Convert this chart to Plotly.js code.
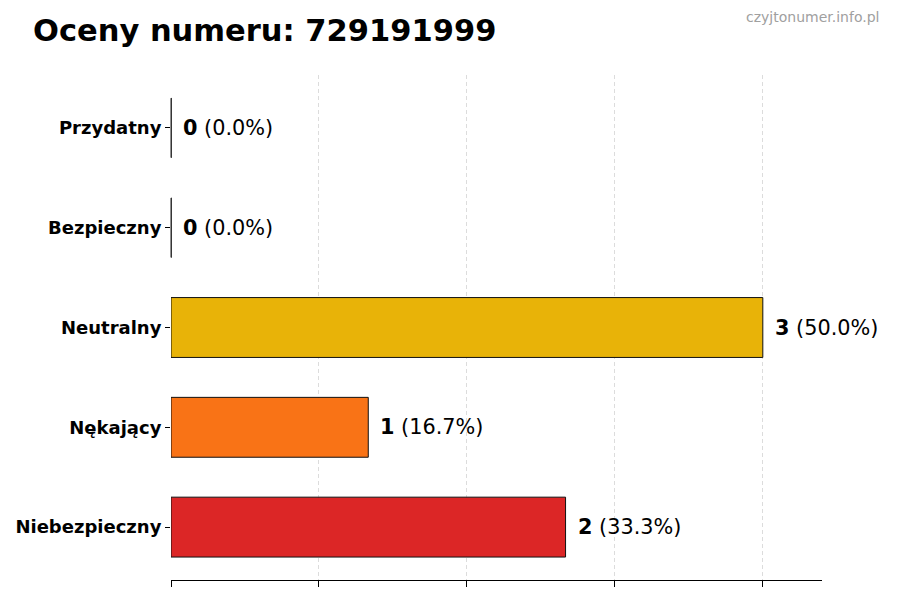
<!DOCTYPE html>
<html>
<head>
<meta charset="utf-8">
<script src="https://cdn.plot.ly/plotly-3.0.1.min.js"></script>
<style>html,body{margin:0;padding:0;background:#fff}#chart{width:900px;height:600px}</style>
</head>
<body>
<div id="chart"></div>
<script>
const categories = ["Niebezpieczny", "Nękający", "Neutralny", "Bezpieczny", "Przydatny"];
const counts = [2, 1, 3, 0, 0];
const percents = [33.3, 16.7, 50.0, 0.0, 0.0];
const colors = ["#dc2626", "#f97316", "#e8b308", "#16a34a", "#22c55e"];
const gridTicks = [0, 0.75, 1.5, 2.25, 3];
const titleText = "Oceny numeru: 729191999";
const watermark = "czyjtonumer.info.pl";

const FONT = "DejaVu Sans, sans-serif";
const xMax = Math.max(...counts) * 1.1;

const barTrace = {
  type: "bar",
  orientation: "h",
  y: categories,
  x: counts,
  width: 0.6,
  marker: { color: colors, line: { color: "#111", width: 1 } },
  hoverinfo: "skip"
};

// edge line for zero-valued bars (plotly does not draw zero-size bars)
const zeroCats = categories.filter((c, i) => counts[i] === 0);
const zeroTrace = {
  type: "scatter",
  mode: "markers",
  y: zeroCats,
  x: zeroCats.map(() => 0),
  marker: { symbol: "line-ns-open", size: 42.5, color: "#222", line: { color: "#222", width: 1 } },
  hoverinfo: "skip",
  cliponaxis: false
};

const annotations = categories.map((c, i) => ({
  x: counts[i], y: c, xref: "x", yref: "y",
  text: "<b>" + counts[i] + "</b> (" + percents[i].toFixed(1) + "%)",
  showarrow: false, xanchor: "left", yanchor: "middle", xshift: 10,
  font: { family: FONT, size: 20.8, color: "#000" }
}));
annotations.push({
  xref: "paper", yref: "paper", x: 1.0906, y: 1.115,
  xanchor: "right", yanchor: "middle",
  text: watermark, showarrow: false,
  font: { family: FONT, size: 14, color: "#a0a0a0" }
});

const layout = {
  width: 900, height: 600,
  margin: { l: 171, r: 78, t: 75, b: 20 },
  paper_bgcolor: "#fff", plot_bgcolor: "#fff",
  showlegend: false,
  title: {
    text: "<b>" + titleText + "</b>",
    x: 33 / 900, xanchor: "left", xref: "container",
    y: 1 - 30 / 600, yanchor: "middle", yref: "container",
    font: { family: FONT, size: 30.5, color: "#000" }
  },
  xaxis: {
    range: [0, xMax],
    tickvals: gridTicks, showticklabels: false,
    ticks: "outside", ticklen: 6, tickcolor: "#000", tickwidth: 1,
    showgrid: true, gridcolor: "#dcdcdc", griddash: "4px,3px", gridwidth: 1,
    showline: true, linecolor: "#000", linewidth: 1,
    zeroline: false, fixedrange: true
  },
  yaxis: {
    type: "category",
    categoryorder: "array", categoryarray: categories,
    range: [-0.53, 4.53],
    ticks: "outside", ticklen: 5, tickcolor: "#000",
    showgrid: false, showline: false, zeroline: false,
    tickfont: { family: FONT, size: 18, color: "#000", weight: "bold" },
    fixedrange: true
  },
  annotations: annotations
};

Plotly.newPlot("chart", [barTrace, zeroTrace], layout, { displayModeBar: false, staticPlot: true });
</script>
</body>
</html>
